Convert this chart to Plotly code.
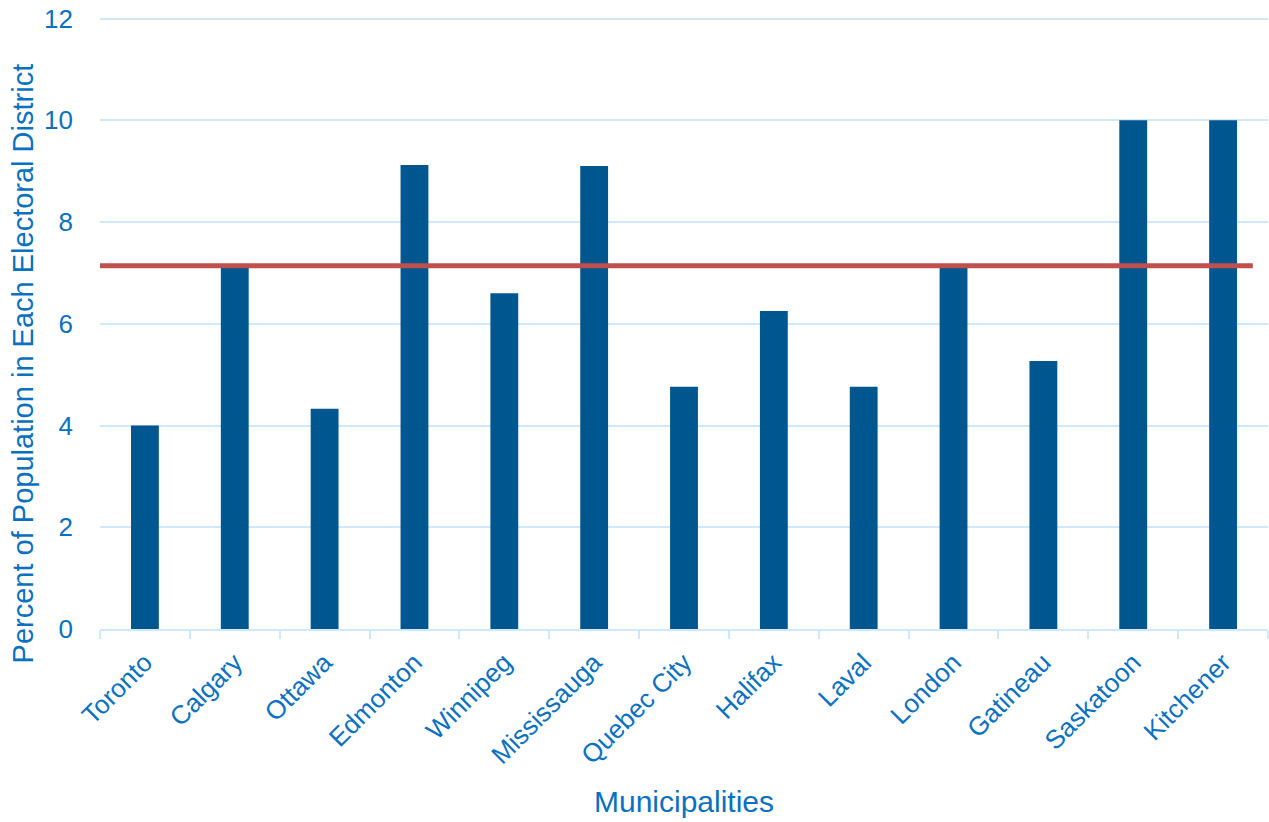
import plotly.graph_objects as go

categories = ["Toronto", "Calgary", "Ottawa", "Edmonton", "Winnipeg", "Mississauga",
              "Quebec City", "Halifax", "Laval", "London", "Gatineau", "Saskatoon", "Kitchener"]
values = [4.0, 7.12, 4.33, 9.12, 6.6, 9.1, 4.76, 6.25, 4.76, 7.12, 5.27, 10.0, 10.0]
average = 7.14
y_title = "Percent of Population in Each Electoral District"
x_title = "Municipalities"

text_color = "#0a70c0"
grid_color = "#cfe8fb"

fig = go.Figure()
fig.add_trace(go.Bar(x=categories, y=values, marker_color="#00568f",
                     marker_line_width=0, width=0.31))

fig.add_shape(type="line", xref="paper", yref="y", x0=0, x1=0.987,
              y0=average, y1=average, line=dict(color="#c0504d", width=5))

fig.add_annotation(text=y_title, xref="paper", yref="paper", x=-0.0659, y=0.434,
                   xanchor="center", yanchor="middle", textangle=-90, showarrow=False,
                   font=dict(family="Liberation Sans", size=29, color=text_color))

fig.update_layout(
    width=1269, height=822,
    margin=dict(l=100, r=1, t=17, b=193),
    plot_bgcolor="white", paper_bgcolor="white",
    font=dict(family="Liberation Sans", color=text_color, size=26),
    showlegend=False, bargap=0.69,
    xaxis=dict(
        title=dict(text=x_title, font=dict(family="Liberation Sans", size=30, color=text_color), standoff=22),
        tickangle=-45, tickson="boundaries", ticks="outside", ticklen=8,
        tickcolor=grid_color, tickwidth=2, showline=True, linecolor=grid_color, linewidth=2,
        showgrid=False, tickfont=dict(family="Liberation Sans", size=26, color=text_color),
        ticklabelstandoff=6, automargin=False,
    ),
    yaxis=dict(
        range=[0, 12.03], tickvals=[0, 2, 4, 6, 8, 10, 12],
        showgrid=True, gridcolor=grid_color, gridwidth=2,
        zeroline=False, ticks="", tickfont=dict(family="Liberation Sans", size=26, color=text_color),
        ticklabelstandoff=26, ticklabeloverflow="allow", automargin=False,
    ),
)

fig.write_html("out.html", config={"displayModeBar": False},
               post_script="document.body.style.margin='0';document.body.style.overflow='hidden';")
